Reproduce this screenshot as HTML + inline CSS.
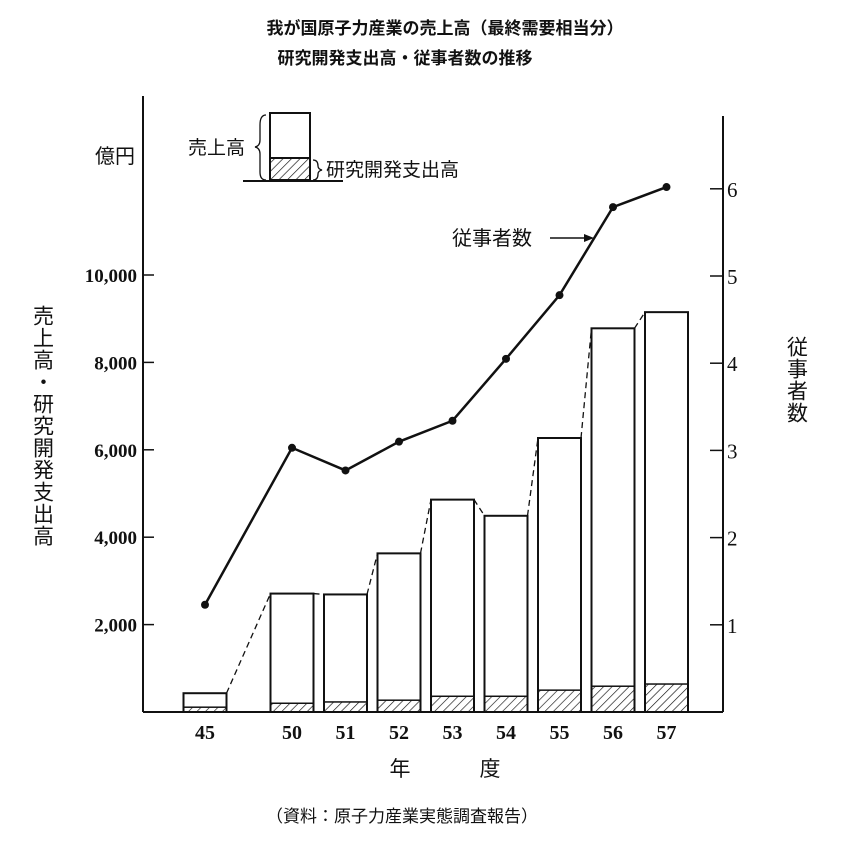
<!DOCTYPE html>
<html><head><meta charset="utf-8"><style>
html,body{margin:0;padding:0;background:#fff;}
svg text{font-family:"Liberation Serif","Noto Serif CJK SC","Noto Sans CJK JP",serif;fill:#111;}
.cjk{font-family:"Liberation Sans","Noto Sans CJK JP",sans-serif !important;}
</style></head><body>
<svg id="chart" width="864" height="845" viewBox="0 0 864 845" xmlns="http://www.w3.org/2000/svg">
<defs><pattern id="hatch" patternUnits="userSpaceOnUse" width="6" height="6" patternTransform="rotate(45)"><line x1="0" y1="0" x2="0" y2="6" stroke="#111" stroke-width="1.3"/></pattern></defs>
<text class="cjk" x="445" y="34" font-size="17" font-weight="bold" text-anchor="middle">我が国原子力産業の売上高（最終需要相当分）</text>
<text class="cjk" x="405" y="64" font-size="17" font-weight="bold" text-anchor="middle">研究開発支出高・従事者数の推移</text>
<g id="axes"></g>
<g id="bars"></g>
<g id="line"></g>
<text class="cjk" x="95" y="163" font-size="20">億円</text>
<text class="cjk" x="42" y="305" font-size="21" writing-mode="tb" glyph-orientation-vertical="0" letter-spacing="1">売上高・研究開発支出高</text>
<text class="cjk" x="796" y="336" font-size="21" writing-mode="tb" glyph-orientation-vertical="0" letter-spacing="1">従事者数</text>
<text class="cjk" x="400" y="776" font-size="21" text-anchor="middle">年</text>
<text class="cjk" x="490" y="776" font-size="21" text-anchor="middle">度</text>
<text class="cjk" x="402" y="822" font-size="17" text-anchor="middle">（資料：原子力産業実態調査報告）</text>
<g>
<rect x="270" y="113" width="40" height="67" fill="#fff" stroke="#111" stroke-width="2"/>
<rect x="270" y="158" width="40" height="22" fill="url(#hatch)" stroke="#111" stroke-width="2"/>
<line x1="243" y1="181" x2="343" y2="181" stroke="#111" stroke-width="2"/>
<path d="M266 115 Q260 115 260 125 L260 140 Q260 146 255 147 Q260 148 260 154 L260 172 Q260 180 266 180" fill="none" stroke="#111" stroke-width="1.3"/>
<path d="M313 160 Q318 160 318 166 Q318 169 322 170 Q318 171 318 174 Q318 180 313 180" fill="none" stroke="#111" stroke-width="1.3"/>
<text class="cjk" x="188" y="154" font-size="19">売上高</text>
<text class="cjk" x="326" y="176" font-size="19">研究開発支出高</text>
</g>
<line x1="550" y1="238" x2="590" y2="238" stroke="#111" stroke-width="1.5"/>
<path d="M594 238 L584 234 L584 242 Z" fill="#111"/>
<text class="cjk" x="452" y="245" font-size="20">従事者数</text>
</svg>
<script>
const categories=["45","50","51","52","53","54","55","56","57"];
const sales=[430,2710,2690,3630,4860,4490,6270,8780,9150];
const rd=[110,200,230,270,360,360,500,590,640];
const employees=[1.23,3.03,2.77,3.10,3.34,4.05,4.78,5.79,6.02];
const leftTicks=[2000,4000,6000,8000,10000];
const leftTickLabels=["2,000","4,000","6,000","8,000","10,000"];
const rightTicks=[1,2,3,4,5,6];
const NS="http://www.w3.org/2000/svg";
const y0=712;
function yL(v){return y0-v*87.4/2000;}
function yR(v){return y0-v*87.2;}
function xC(i){return i===0?205:292+(i-1)*53.5;}
const bw=43;
function mk(tag,attrs,parent){const e=document.createElementNS(NS,tag);for(const k in attrs)e.setAttribute(k,attrs[k]);parent.appendChild(e);return e;}
const axes=document.getElementById('axes');
let e;
e=mk('line',{x1:143,y1:96,x2:143,y2:y0,stroke:'#111','stroke-width':2},axes);


e=mk('line',{x1:723,y1:116,x2:723,y2:y0,stroke:'#111','stroke-width':2},axes);


e=mk('line',{x1:143,y1:y0,x2:723,y2:y0,stroke:'#111','stroke-width':2},axes);


leftTicks.forEach((v,i)=>{
 mk('line',{x1:143,y1:yL(v),x2:154,y2:yL(v),stroke:'#111','stroke-width':1.5},axes);
 const t=mk('text',{x:137,y:yL(v)+7,'font-size':19,'text-anchor':'end','font-weight':'bold'},axes);
 t.textContent=leftTickLabels[i];
 
 
});
rightTicks.forEach(v=>{
 mk('line',{x1:710,y1:yR(v),x2:723,y2:yR(v),stroke:'#111','stroke-width':1.5},axes);
 const t=mk('text',{x:727,y:yR(v)+8,'font-size':21},axes);
 t.textContent=String(v);
 
 
});
const bars=document.getElementById('bars');
categories.forEach((c,i)=>{
 const x=xC(i)-bw/2;
 const b=mk('rect',{x:x,y:yL(sales[i]),width:bw,height:y0-yL(sales[i]),fill:'#fff',stroke:'#111','stroke-width':2},bars);
 
 
 const h=mk('rect',{x:x,y:yL(rd[i]),width:bw,height:y0-yL(rd[i]),fill:'url(#hatch)',stroke:'#111','stroke-width':1.5},bars);
 
 
 const t=mk('text',{x:xC(i),y:739,'font-size':20,'text-anchor':'middle','font-weight':'bold'},bars);
 t.textContent=c;
 
 
 if(i<categories.length-1){
  const d=mk('line',{x1:x+bw,y1:yL(sales[i]),x2:xC(i+1)-bw/2,y2:yL(sales[i+1]),stroke:'#111','stroke-width':1.3,'stroke-dasharray':'6,4'},bars);
  
  
 }
});
const lg=document.getElementById('line');
const pts=employees.map((v,i)=>xC(i)+','+yR(v)).join(' ');
e=mk('polyline',{points:pts,fill:'none',stroke:'#111','stroke-width':2.5},lg);


employees.forEach((v,i)=>{
 const p=mk('circle',{cx:xC(i),cy:yR(v),r:4,fill:'#111'},lg);
 
 
});
</script>
</body></html>
